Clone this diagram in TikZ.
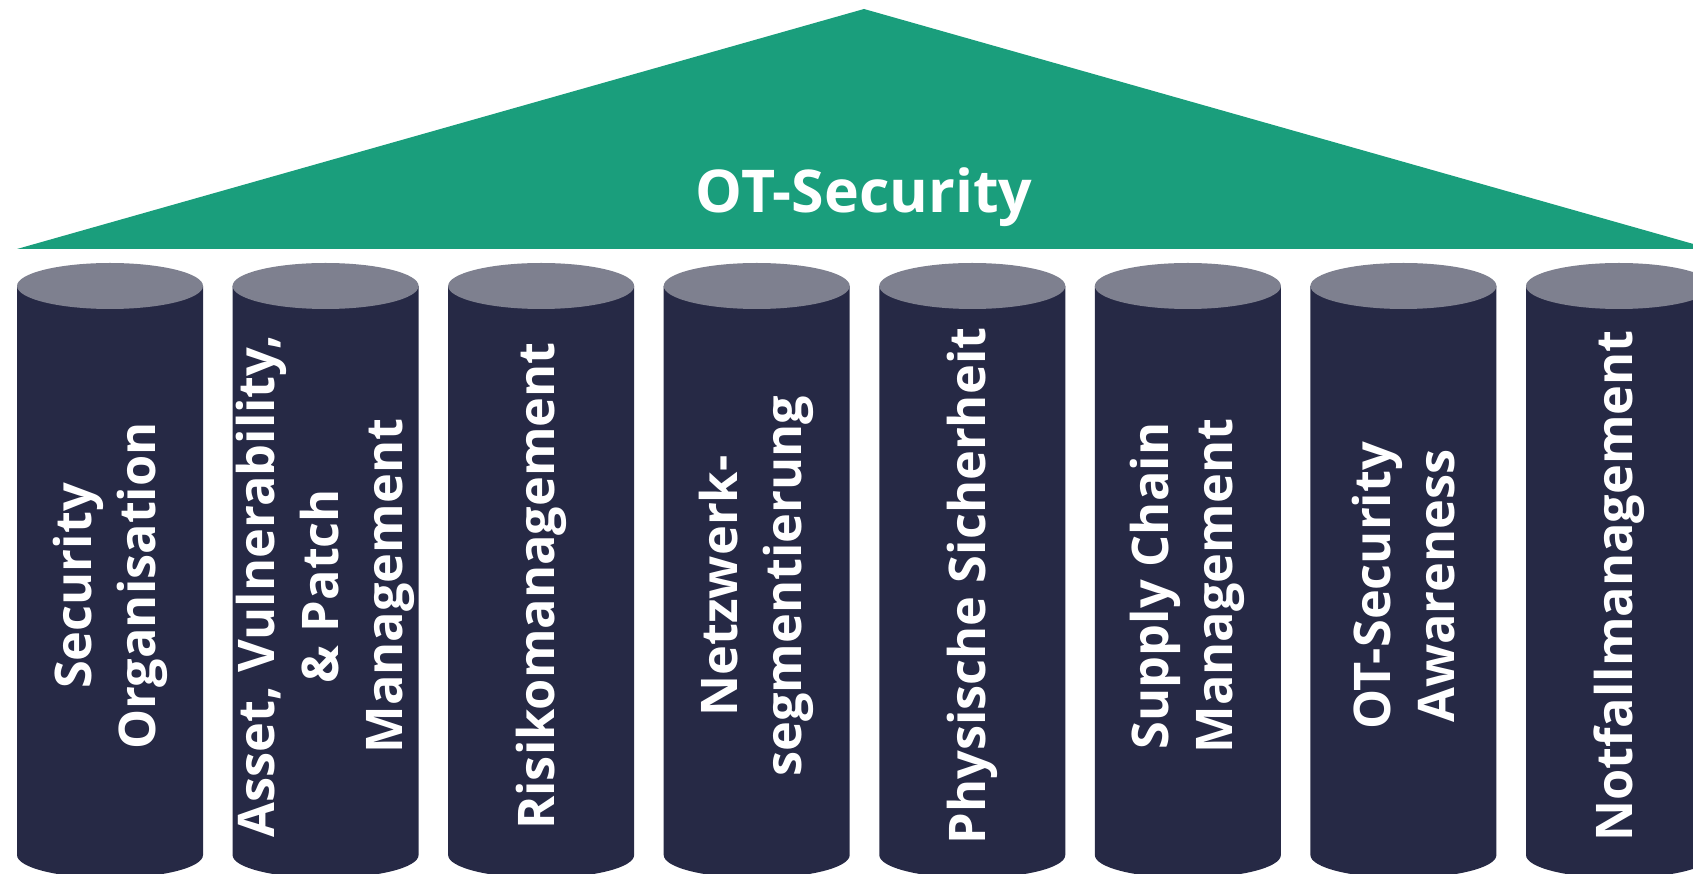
\documentclass[tikz,border=0pt]{standalone}
\usepackage{fontspec}
\setmainfont{Open Sans}
\definecolor{roofgreen}{HTML}{1A9E7C}
\definecolor{pillarnavy}{HTML}{262945}
\definecolor{capgrey}{HTML}{7E808F}
\tikzset{
  pillarbody/.style={fill=pillarnavy},
  pillarcap/.style={fill=capgrey},
  rooflabel/.style={text=white, font=\bfseries\fontsize{59}{70}\selectfont},
  pillarlabel/.style={text=white, font=\bfseries\fontsize{50.5}{64}\selectfont,
    rotate=90, align=center, inner sep=0pt},
}
\begin{document}
\begin{tikzpicture}[x=1pt,y=1pt]
    \useasboundingbox (0,0) rectangle (1693,873);
    \clip (0,0) rectangle (1693,873);
    % Roof
    \fill[roofgreen] (17,624) -- (864,864) -- (1711,624) -- cycle;
    \node[rooflabel] (roof) at (864,676) {OT-Security};
    % Pillars
    \foreach \i/\txt in {0/{Security\\Organisation},
        1/{Asset, Vulnerability,\\\& Patch\\Management},
        2/{Risikomanagement},
        3/{Netzwerk-\\segmentierung},
        4/{Physische Sicherheit},
        5/{Supply Chain\\Management},
        6/{OT-Security\\Awareness},
        7/{Notfallmanagement}} {
      \pgfmathsetmacro{\cx}{110+\i*215.57}
      \fill[pillarbody] (\cx-93,587) -- (\cx-93,18)
        arc[start angle=180, end angle=360, x radius=93, y radius=23]
        -- (\cx+93,587) -- cycle;
      \fill[pillarcap] (\cx,587) ellipse[x radius=93, y radius=23];
      \node[pillarlabel] (pillar\i) at (\cx,287) {\txt};
    }
\end{tikzpicture}
\end{document}
